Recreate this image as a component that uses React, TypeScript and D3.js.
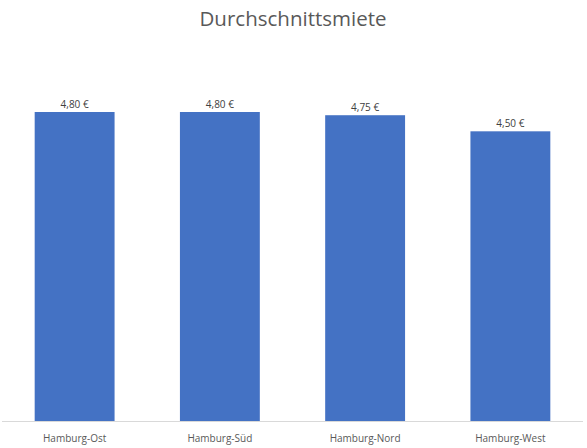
import React from "react";
import * as d3 from "d3";

const districts = ["Hamburg-Ost", "Hamburg-Süd", "Hamburg-Nord", "Hamburg-West"];
const rents = [4.8, 4.8, 4.75, 4.5];
const chartTitle = "Durchschnittsmiete";

const W = 587;
const H = 448;
const baseY = 421;

export default function App() {
  const x = d3.scaleBand<string>().domain(districts).range([2, 583]).paddingInner(0.45).paddingOuter(0.225);
  const y = d3.scaleLinear().domain([0, 6]).range([baseY, baseY - 6 * 64.375]);
  const fmt = (v: number) => d3.format(".2f")(v).replace(".", ",") + " €";
  const font = "'Open Sans', 'Noto Sans', sans-serif";

  return (
    <svg width={W} height={H} style={{ position: "absolute", left: 0, top: 0, background: "#fff" }}>
      <text x={293} y={26} textAnchor="middle" fontFamily={font} fontSize={20.5} fill="#595959">
        {chartTitle}
      </text>
      {districts.map((d, i) => (
        <g key={d}>
          <rect x={x(d)} y={y(rents[i])} width={x.bandwidth()} height={baseY - y(rents[i])} fill="#4472C4" />
          <text x={x(d)! + x.bandwidth() / 2} y={y(rents[i]) - 4} textAnchor="middle" fontFamily={font} fontSize={10} fill="#404040">
            {fmt(rents[i])}
          </text>
          <text x={x(d)! + x.bandwidth() / 2} y={442} textAnchor="middle" fontFamily={font} fontSize={10} fill="#595959">
            {d}
          </text>
        </g>
      ))}
      <line x1={2} x2={583} y1={baseY + 0.5} y2={baseY + 0.5} stroke="#D9D9D9" strokeWidth={1} />
    </svg>
  );
}
